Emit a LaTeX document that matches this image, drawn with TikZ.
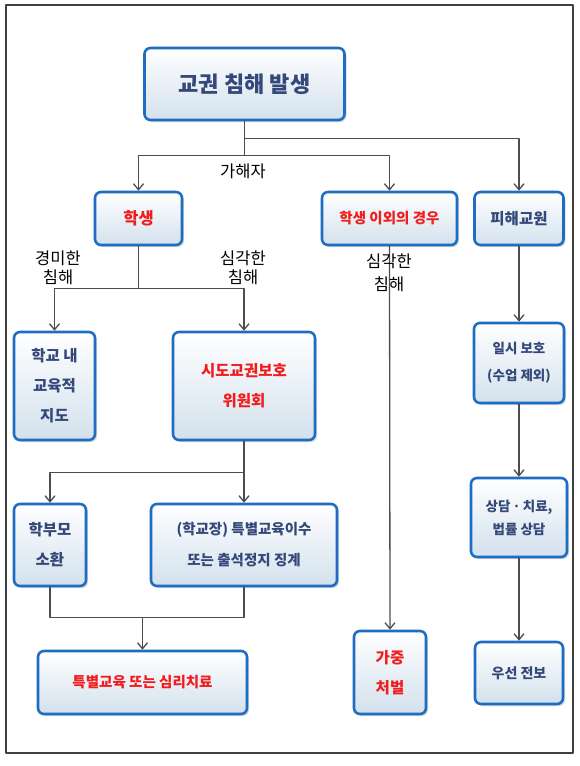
\documentclass[tikz,border=0pt]{standalone}
\usepackage{fontspec}
\newfontfamily\kr{Noto Sans CJK KR}
\usepackage{xcolor}
\usetikzlibrary{arrows.meta,positioning,calc,shadows}
\definecolor{boxblue}{HTML}{1F6DC2}
\definecolor{boxshade}{HTML}{D3E1ED}
\definecolor{navytext}{HTML}{34497A}
\definecolor{alertred}{HTML}{F21C1C}
\definecolor{linegray}{HTML}{4D4D4D}
\definecolor{framegray}{HTML}{3F3F3F}
\tikzset{
    every picture/.style={line cap=round,line join=round},
    flowbox/.style={draw=boxblue,line width=2.6pt,rounded corners=6pt,
      top color=white,bottom color=boxshade,
      drop shadow={opacity=.3,shadow xshift=2pt,shadow yshift=-2pt},
      text=navytext,font=\kr\bfseries\fontsize{15.5}{30}\selectfont,
      align=center,inner sep=2pt},
    alertbox/.style={flowbox,text=alertred},
    link/.style={draw=linegray,line width=1.3pt},
    linkarrow/.style={link,-{Straight Barb[length=6pt,width=10pt]}},
    notelabel/.style={font=\kr\fontsize{16.5}{19}\selectfont,align=center,
      inner sep=1pt,text=black}
}
\begin{document}
\begin{tikzpicture}[x=1pt,y=-1pt]
  \useasboundingbox (0,0) rectangle (580,766);
  \draw[framegray,line width=1.2pt] (6,5) rectangle (573,753);
  % top
  \node[flowbox,minimum width=200pt,minimum height=72pt,
    font=\kr\bfseries\fontsize{22}{26}\selectfont] (occur) at (244.5,84) {교권 침해 발생};
  % second row
  \node[alertbox,minimum width=87pt,minimum height=53pt,
    font=\kr\bfseries\fontsize{16.5}{20}\selectfont] (student) at (138.5,218.5) {학생};
  \node[alertbox,minimum width=135pt,minimum height=53pt,
    font=\kr\bfseries\fontsize{14.5}{20}\selectfont] (others) at (389.5,218.5) {학생 이외의 경우};
  \node[flowbox,minimum width=89pt,minimum height=53pt] (victim) at (519,218.5) {피해교원};
  % third row
  \node[flowbox,minimum width=81pt,minimum height=108pt] (school) at (54.5,386) {학교 내\\교육적\\지도};
  \node[alertbox,minimum width=142pt,minimum height=108pt] (committee) at (244,386) {시도교권보호\\위원회};
  \node[flowbox,minimum width=90pt,minimum height=80pt,
    font=\kr\bfseries\fontsize{13.5}{27}\selectfont] (protect) at (519,363) {일시 보호\\(수업 제외)};
  % fourth row
  \node[flowbox,minimum width=72pt,minimum height=82pt] (parents) at (50,545) {학부모\\소환};
  \node[flowbox,minimum width=186pt,minimum height=82pt,
    font=\kr\bfseries\fontsize{14.5}{31}\selectfont] (discipline) at (244,545) {(학교장) 특별교육이수\\또는 출석정지 징계};
  \node[flowbox,minimum width=96pt,minimum height=79pt,
    font=\kr\bfseries\fontsize{13.5}{23}\selectfont] (counsel) at (519,517.5) {상담ㆍ치료,\\법률 상담};
  % bottom row
  \node[alertbox,minimum width=209pt,minimum height=63pt,
    font=\kr\bfseries\fontsize{14.5}{20}\selectfont] (special) at (142.5,682.5) {특별교육 또는 심리치료};
  \node[alertbox,minimum width=72pt,minimum height=83pt] (punish) at (390,672.5) {가중\\처벌};
  \node[flowbox,minimum width=88pt,minimum height=62pt,
    font=\kr\bfseries\fontsize{14}{20}\selectfont] (transfer) at (519,673) {우선 전보};

  % connectors from the top
  \draw[link] (occur.south) -- ++(0,34) coordinate (split);
  \draw[linkarrow] (split) -| (student.north);
  \draw[linkarrow] (split) -| (others.north);
  \draw[linkarrow] ($(occur.south)+(0,17)$) -| (victim.north);
  \node[notelabel] (offender) at (243,171) {가해자};

  % student branch
  \draw[link] (student.south) -- ++(0,42) coordinate (grade);
  \draw[linkarrow] (grade) -| (school.north);
  \draw[linkarrow] (grade) -| (committee.north);
  \node[notelabel] (minor) at (58,268) {경미한\\침해};
  \node[notelabel] (severe) at (243,268) {심각한\\침해};

  % others branch
  \draw[linkarrow] (others.south) -- (punish.north);
  \node[notelabel,font=\kr\fontsize{16.5}{23}\selectfont] (severe2) at (389,273) {심각한\\침해};

  % victim branch
  \draw[linkarrow] (victim.south) -- (protect.north);
  \draw[linkarrow] (protect.south) -- (counsel.north);
  \draw[linkarrow] (counsel.south) -- (transfer.north);

  % committee branch
  \draw[link] (committee.south) -- ++(0,31) coordinate (order);
  \draw[linkarrow] (order) -| (parents.north);
  \draw[linkarrow] (order) -- (discipline.north);
  \coordinate (merge) at ($(special.north)+(0,-32)$);
  \draw[link] (parents.south) |- (merge);
  \draw[link] (discipline.south) |- (merge);
  \draw[linkarrow] (merge) -- (special.north);
\end{tikzpicture}
\end{document}
